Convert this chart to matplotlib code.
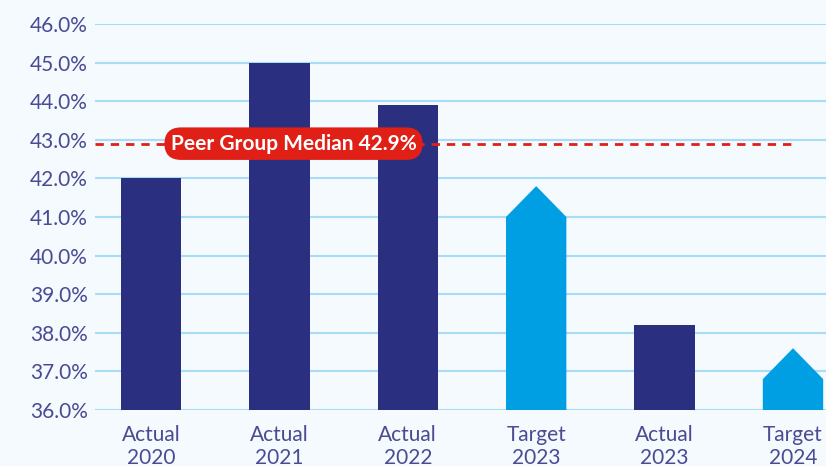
import matplotlib.pyplot as plt
from matplotlib.patches import Polygon
import numpy as np

categories = ["Actual\n2020", "Actual\n2021", "Actual\n2022", "Target\n2023", "Actual\n2023", "Target\n2024"]
values = [42.0, 45.0, 43.9, 41.8, 38.2, 37.6]
is_target = [False, False, False, True, False, True]
peer_median = 42.9
yticks = np.arange(36, 47, 1)

navy = "#2B2F80"
sky = "#009FE3"
red = "#E01F17"
grid_col = "#A9DCF5"
bg = "#F5FAFE"
label_col = "#4A4B92"

plt.rcParams['font.family'] = ['Lato', 'DejaVu Sans']

fig = plt.figure(figsize=(8.26, 4.66), dpi=100, facecolor=bg)
ax = fig.add_axes([95 / 826, 56 / 466, 1 - 95 / 826, 386 / 466], facecolor=bg)

width = 0.47
head = 0.8  # arrow head height in data units
base = 36
x = np.arange(len(categories))
for xi, v, t in zip(x, values, is_target):
    if not t:
        ax.bar(xi, v - base, width, bottom=base, color=navy, zorder=3)
    else:
        pts = [(xi - width / 2, base), (xi - width / 2, v - head), (xi, v),
               (xi + width / 2, v - head), (xi + width / 2, base)]
        ax.add_patch(Polygon(pts, closed=True, color=sky, zorder=3, lw=0))

ax.set_xlim(-0.436, 5.257)
ax.set_ylim(36, 46)
ax.set_yticks(yticks)
ax.set_yticklabels([f"{t:.1f}%" for t in yticks])
ax.set_xticks(x)
ax.set_xticklabels(categories, linespacing=1.15)
ax.yaxis.grid(True, color=grid_col, lw=1.5, zorder=0)
ax.tick_params(length=0, labelsize=15, labelcolor=label_col)
ax.tick_params(axis='y', pad=5)
ax.tick_params(axis='x', pad=11)
for s in ax.spines.values():
    s.set_visible(False)

ax.plot([-0.436, 5.03], [peer_median, peer_median], color=red, lw=2,
        ls=(0, (3, 2.5)), zorder=4)
ax.text(1.11, peer_median, f"Peer Group Median {peer_median}%", color="white",
        fontsize=15, fontweight="bold", ha="center", va="center", zorder=5,
        bbox=dict(boxstyle="round,pad=0.3,rounding_size=0.8", fc=red, ec="none"))

fig.savefig("out.png", dpi=100, facecolor=bg)
